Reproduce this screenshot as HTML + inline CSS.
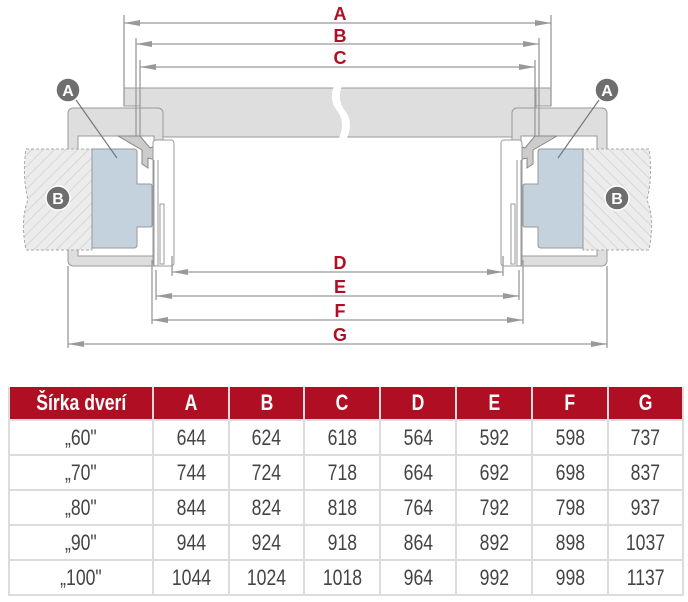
<!DOCTYPE html>
<html><head><meta charset="utf-8"><style>
body{margin:0;background:#fff;width:688px;height:602px;overflow:hidden;font-family:"Liberation Sans",sans-serif}
svg{position:absolute;left:0;top:0}
table{position:absolute;left:8px;top:387px;border-collapse:collapse;width:674px;table-layout:fixed;font-family:"Liberation Sans",sans-serif}
td,th{border:2px solid #dcdcdc;text-align:center;font-size:22px;color:#444;padding:0;white-space:nowrap}
th{background:#b00e23;color:#fff;height:32px;font-weight:bold;border-top:none}
td{height:33px}
span{display:inline-block;transform:scaleX(.8)}
</style></head><body>
<svg width="688" height="380" viewBox="0 0 688 380">
<defs>
<pattern id="h" width="8" height="8" patternUnits="userSpaceOnUse" patternTransform="rotate(45)"><rect width="8" height="8" fill="#ececec"/><line x1="0" y1="0" x2="0" y2="8" stroke="#d0d0d0" stroke-width="1.5"/></pattern>
<g id="side">
<rect x="68" y="108" width="95" height="158" rx="5" fill="#dedede" stroke="#999" stroke-width="1"/>
<rect x="78" y="136" width="76" height="120" fill="#fff" stroke="#999" stroke-width="1"/>
<path d="M26 149 L92 149 L92 250 L26 250 Q20 220 28 200 Q22 175 26 149Z" fill="url(#h)" stroke="#aaa" stroke-dasharray="3,2"/>
<path d="M92 149 L134 149 Q137 149 137 152 L137 184 L150 184 Q152 184 152 186 L152 225 Q152 227 150 227 L137 227 L137 245 Q137 248 134 248 L92 248Z" fill="#c3d2dd" stroke="#999"/>
<line x1="124" y1="15" x2="124" y2="106" stroke="#999" stroke-width="1.3"/>
<line x1="136" y1="38" x2="136" y2="137" stroke="#999" stroke-width="1.3"/>
<line x1="140" y1="60" x2="140" y2="137" stroke="#999" stroke-width="1.3"/>
<path d="M118 136 L140 136 L150 148 L160 144 L156 160 L148 158 L148 168 L142 164 L142 150Z" fill="#ccc" stroke="#888" stroke-width="1"/>
<rect x="153" y="140" width="21" height="126" rx="3" fill="#fff" stroke="#999"/>
<line x1="154" y1="160" x2="154" y2="266" stroke="#999"/>
<line x1="158" y1="160" x2="158" y2="266" stroke="#999"/>
<rect x="160" y="204" width="4" height="60" fill="none" stroke="#999"/>
<line x1="172" y1="256" x2="172" y2="276" stroke="#999" stroke-width="1.3"/>
<line x1="156" y1="270" x2="156" y2="300" stroke="#999" stroke-width="1.3"/>
<line x1="152" y1="260" x2="152" y2="324" stroke="#999" stroke-width="1.3"/>
<line x1="68" y1="266" x2="68" y2="348" stroke="#999" stroke-width="1.3"/>
<line x1="76" y1="100" x2="117" y2="158" stroke="#777" stroke-width="1.2"/>
</g>
<marker id="m" markerWidth="16" markerHeight="6" refX="16" refY="3" orient="auto-start-reverse" markerUnits="userSpaceOnUse"><path d="M16 3 L0 0 L0 6Z" fill="#999"/></marker>
</defs>
<rect x="124" y="88" width="427" height="18" fill="#dedede" stroke="#999"/>
<rect x="140" y="88" width="396" height="49" fill="#dedede" stroke="#999"/>
<use href="#side"/>
<use href="#side" transform="translate(675,0) scale(-1,1)"/>
<path d="M334 86 Q328 100 338 112 Q346 124 338 140 L346 140 Q354 124 346 112 Q336 100 342 86Z" fill="#fff"/>
<g stroke="#999" stroke-width="1.3" marker-start="url(#m)" marker-end="url(#m)">
<line x1="124" y1="23" x2="551" y2="23"/>
<line x1="136" y1="44" x2="539" y2="44"/>
<line x1="140" y1="67" x2="535" y2="67"/>
<line x1="172" y1="272" x2="503" y2="272"/>
<line x1="156" y1="296" x2="519" y2="296"/>
<line x1="152" y1="320" x2="523" y2="320"/>
<line x1="68" y1="344" x2="607" y2="344"/>
</g>
<g fill="#6e6e6e" stroke="#fff" stroke-width="1.5">
<circle cx="68" cy="90" r="12"/><circle cx="58" cy="198" r="12"/>
<circle cx="607" cy="90" r="12"/><circle cx="617" cy="198" r="12"/>
</g>
<g fill="#fff" font-size="16" font-weight="bold" text-anchor="middle">
<text x="68" y="96">A</text><text x="58" y="204">B</text>
<text x="607" y="96">A</text><text x="617" y="204">B</text>
</g>
<g fill="#b00e23" font-size="18" font-weight="bold" text-anchor="middle">
<text x="340" y="20">A</text><text x="340" y="42">B</text><text x="340" y="64">C</text>
<text x="340" y="269">D</text><text x="340" y="293">E</text><text x="340" y="317">F</text><text x="340" y="341">G</text>
</g>
</svg>
<table>
<colgroup><col style="width:144px"><col style="width:76px"><col style="width:75px"><col style="width:76px"><col style="width:76px"><col style="width:76px"><col style="width:76px"><col style="width:75px"></colgroup>
<tr><th><span>Šírka dverí</span></th><th><span>A</span></th><th><span>B</span></th><th><span>C</span></th><th><span>D</span></th><th><span>E</span></th><th><span>F</span></th><th><span>G</span></th></tr>
<tr><td><span>„60"</span></td><td><span>644</span></td><td><span>624</span></td><td><span>618</span></td><td><span>564</span></td><td><span>592</span></td><td><span>598</span></td><td><span>737</span></td></tr>
<tr><td><span>„70"</span></td><td><span>744</span></td><td><span>724</span></td><td><span>718</span></td><td><span>664</span></td><td><span>692</span></td><td><span>698</span></td><td><span>837</span></td></tr>
<tr><td><span>„80"</span></td><td><span>844</span></td><td><span>824</span></td><td><span>818</span></td><td><span>764</span></td><td><span>792</span></td><td><span>798</span></td><td><span>937</span></td></tr>
<tr><td><span>„90"</span></td><td><span>944</span></td><td><span>924</span></td><td><span>918</span></td><td><span>864</span></td><td><span>892</span></td><td><span>898</span></td><td><span>1037</span></td></tr>
<tr><td><span>„100"</span></td><td><span>1044</span></td><td><span>1024</span></td><td><span>1018</span></td><td><span>964</span></td><td><span>992</span></td><td><span>998</span></td><td><span>1137</span></td></tr>
</table>
</body></html>
